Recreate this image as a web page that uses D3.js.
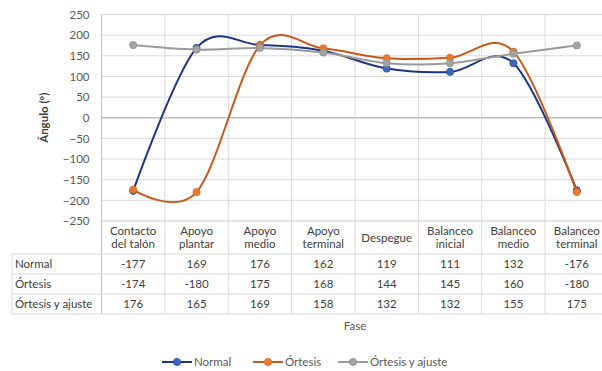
<!DOCTYPE html>
<html>
<head>
<meta charset="utf-8">
<script src="https://cdn.jsdelivr.net/npm/d3@7"></script>
<style>
  html, body { margin: 0; padding: 0; background: #fff; }
  svg { display: block; font-family: Lato, "Open Sans", sans-serif; }
</style>
</head>
<body>
<svg id="chart" width="602" height="371"></svg>
<script>
// Gait-phase angles per condition
const categories = [
  ["Contacto", "del talón"],
  ["Apoyo", "plantar"],
  ["Apoyo", "medio"],
  ["Apoyo", "terminal"],
  ["Despegue"],
  ["Balanceo", "inicial"],
  ["Balanceo", "medio"],
  ["Balanceo", "terminal"]
];
const normal = [-177, 169, 176, 162, 119, 111, 132, -176];
const ortesis = [-174, -180, 175, 168, 144, 145, 160, -180];
const ortesisAjuste = [176, 165, 169, 158, 132, 132, 155, 175];
const yTicks = [-250, -200, -150, -100, -50, 0, 50, 100, 150, 200, 250];

const series = [
  { name: "Normal", values: normal, line: "#1f3585", fill: "#3f66b8", stroke: "#2c4c9c" },
  { name: "Órtesis", values: ortesis, line: "#c9581b", fill: "#ec7a2e", stroke: "#d8691f" },
  { name: "Órtesis y ajuste", values: ortesisAjuste, line: "#9a9a9a", fill: "#a3a3a3", stroke: "#8e8e8e" }
];

const svg = d3.select("#chart");
const plotTop = 14.5, plotBottom = 221, left = 101.5, right = 608.5;
const tableLeft = 12;
const rowY = [254, 274, 294, 314];

const keys = categories.map((c, i) => i);
const x = d3.scaleBand().domain(keys).range([left, right]);
const y = d3.scaleLinear().domain([-250, 250]).range([plotBottom, plotTop]);

const grid = svg.append("g");
// horizontal gridlines
grid.selectAll("line.h").data(yTicks).join("line")
  .attr("x1", left).attr("x2", right)
  .attr("y1", d => y(d)).attr("y2", d => y(d))
  .attr("stroke", d => d === 0 ? "#bdbdbd" : "#d9d9d9")
  .attr("stroke-width", d => d === 0 ? 1.3 : 1);

// category boundaries run through the plot and the data table
const bounds = keys.map(k => x(k)).concat([right]);
grid.selectAll("line.v").data(bounds).join("line")
  .attr("x1", d => d).attr("x2", d => d)
  .attr("y1", plotTop).attr("y2", rowY[3])
  .attr("stroke", (d, i) => i === 0 ? "#bfbfbf" : "#d9d9d9")
  .attr("stroke-width", 1);

// table borders
grid.append("line").attr("x1", left).attr("x2", right)
  .attr("y1", plotBottom).attr("y2", plotBottom).attr("stroke", "#d9d9d9");
grid.selectAll("line.r").data(rowY).join("line")
  .attr("x1", tableLeft).attr("x2", right)
  .attr("y1", d => d).attr("y2", d => d)
  .attr("stroke", "#d9d9d9");
grid.append("line").attr("x1", tableLeft).attr("x2", tableLeft)
  .attr("y1", rowY[0]).attr("y2", rowY[3]).attr("stroke", "#d9d9d9");

// y axis labels
const yAxis = d3.axisLeft(y).tickValues(yTicks).tickSize(0).tickPadding(0);
const ya = svg.append("g").attr("transform", `translate(${left - 12},0)`).call(yAxis);
ya.select(".domain").remove();
ya.selectAll("text").attr("font-size", 11.5).attr("fill", "#595959")
  .attr("font-family", "Lato, sans-serif");

svg.append("text")
  .attr("transform", `translate(48,${(plotTop + plotBottom) / 2}) rotate(-90)`)
  .attr("text-anchor", "middle")
  .attr("font-size", 11.5).attr("font-weight", "bold").attr("fill", "#404040")
  .text("Ángulo (º)");

// category header cells
const header = svg.append("g");
categories.forEach((lines, i) => {
  const cx = x(i) + x.bandwidth() / 2;
  const startY = lines.length === 1 ? 241.5 : 235;
  lines.forEach((t, j) => {
    header.append("text")
      .attr("x", cx).attr("y", startY + j * 13)
      .attr("text-anchor", "middle")
      .attr("font-size", 11.5).attr("fill", "#404040")
      .text(t);
  });
});

// data rows
const table = svg.append("g");
series.forEach((s, r) => {
  const cy = (rowY[r] + rowY[r + 1]) / 2 + 4;
  table.append("text").attr("x", 15).attr("y", cy)
    .attr("font-size", 11.5).attr("fill", "#404040").text(s.name);
  table.selectAll(null).data(s.values).join("text")
    .attr("x", (d, i) => x(i) + x.bandwidth() / 2).attr("y", cy)
    .attr("text-anchor", "middle")
    .attr("font-size", 11.5).attr("fill", "#404040")
    .text(d => d);
});

svg.append("text").attr("x", (left + right) / 2).attr("y", 330)
  .attr("text-anchor", "middle").attr("font-size", 11.5).attr("fill", "#595959")
  .text("Fase");

// smoothed series lines with markers
const line = d3.line()
  .x((d, i) => x(i) + x.bandwidth() / 2)
  .y(d => y(d))
  .curve(d3.curveCardinal.tension(0));

const marks = svg.append("g");
series.forEach(s => {
  marks.append("path").datum(s.values)
    .attr("d", line)
    .attr("fill", "none").attr("stroke", s.line).attr("stroke-width", 2);
  marks.selectAll(null).data(s.values).join("circle")
    .attr("cx", (d, i) => x(i) + x.bandwidth() / 2)
    .attr("cy", d => y(d))
    .attr("r", 3.6)
    .attr("fill", s.fill).attr("stroke", s.stroke).attr("stroke-width", 0.8);
});

// legend
const legendX = [162, 253, 338];
const legend = svg.append("g");
series.forEach((s, i) => {
  const lx = legendX[i], ly = 362;
  legend.append("line").attr("x1", lx).attr("x2", lx + 30)
    .attr("y1", ly).attr("y2", ly).attr("stroke", s.line).attr("stroke-width", 2);
  legend.append("circle").attr("cx", lx + 15).attr("cy", ly).attr("r", 3.6)
    .attr("fill", s.fill).attr("stroke", s.stroke).attr("stroke-width", 0.8);
  legend.append("text").attr("x", lx + 32).attr("y", ly + 4)
    .attr("font-size", 11.5).attr("fill", "#595959").text(s.name);
});
</script>
</body>
</html>
